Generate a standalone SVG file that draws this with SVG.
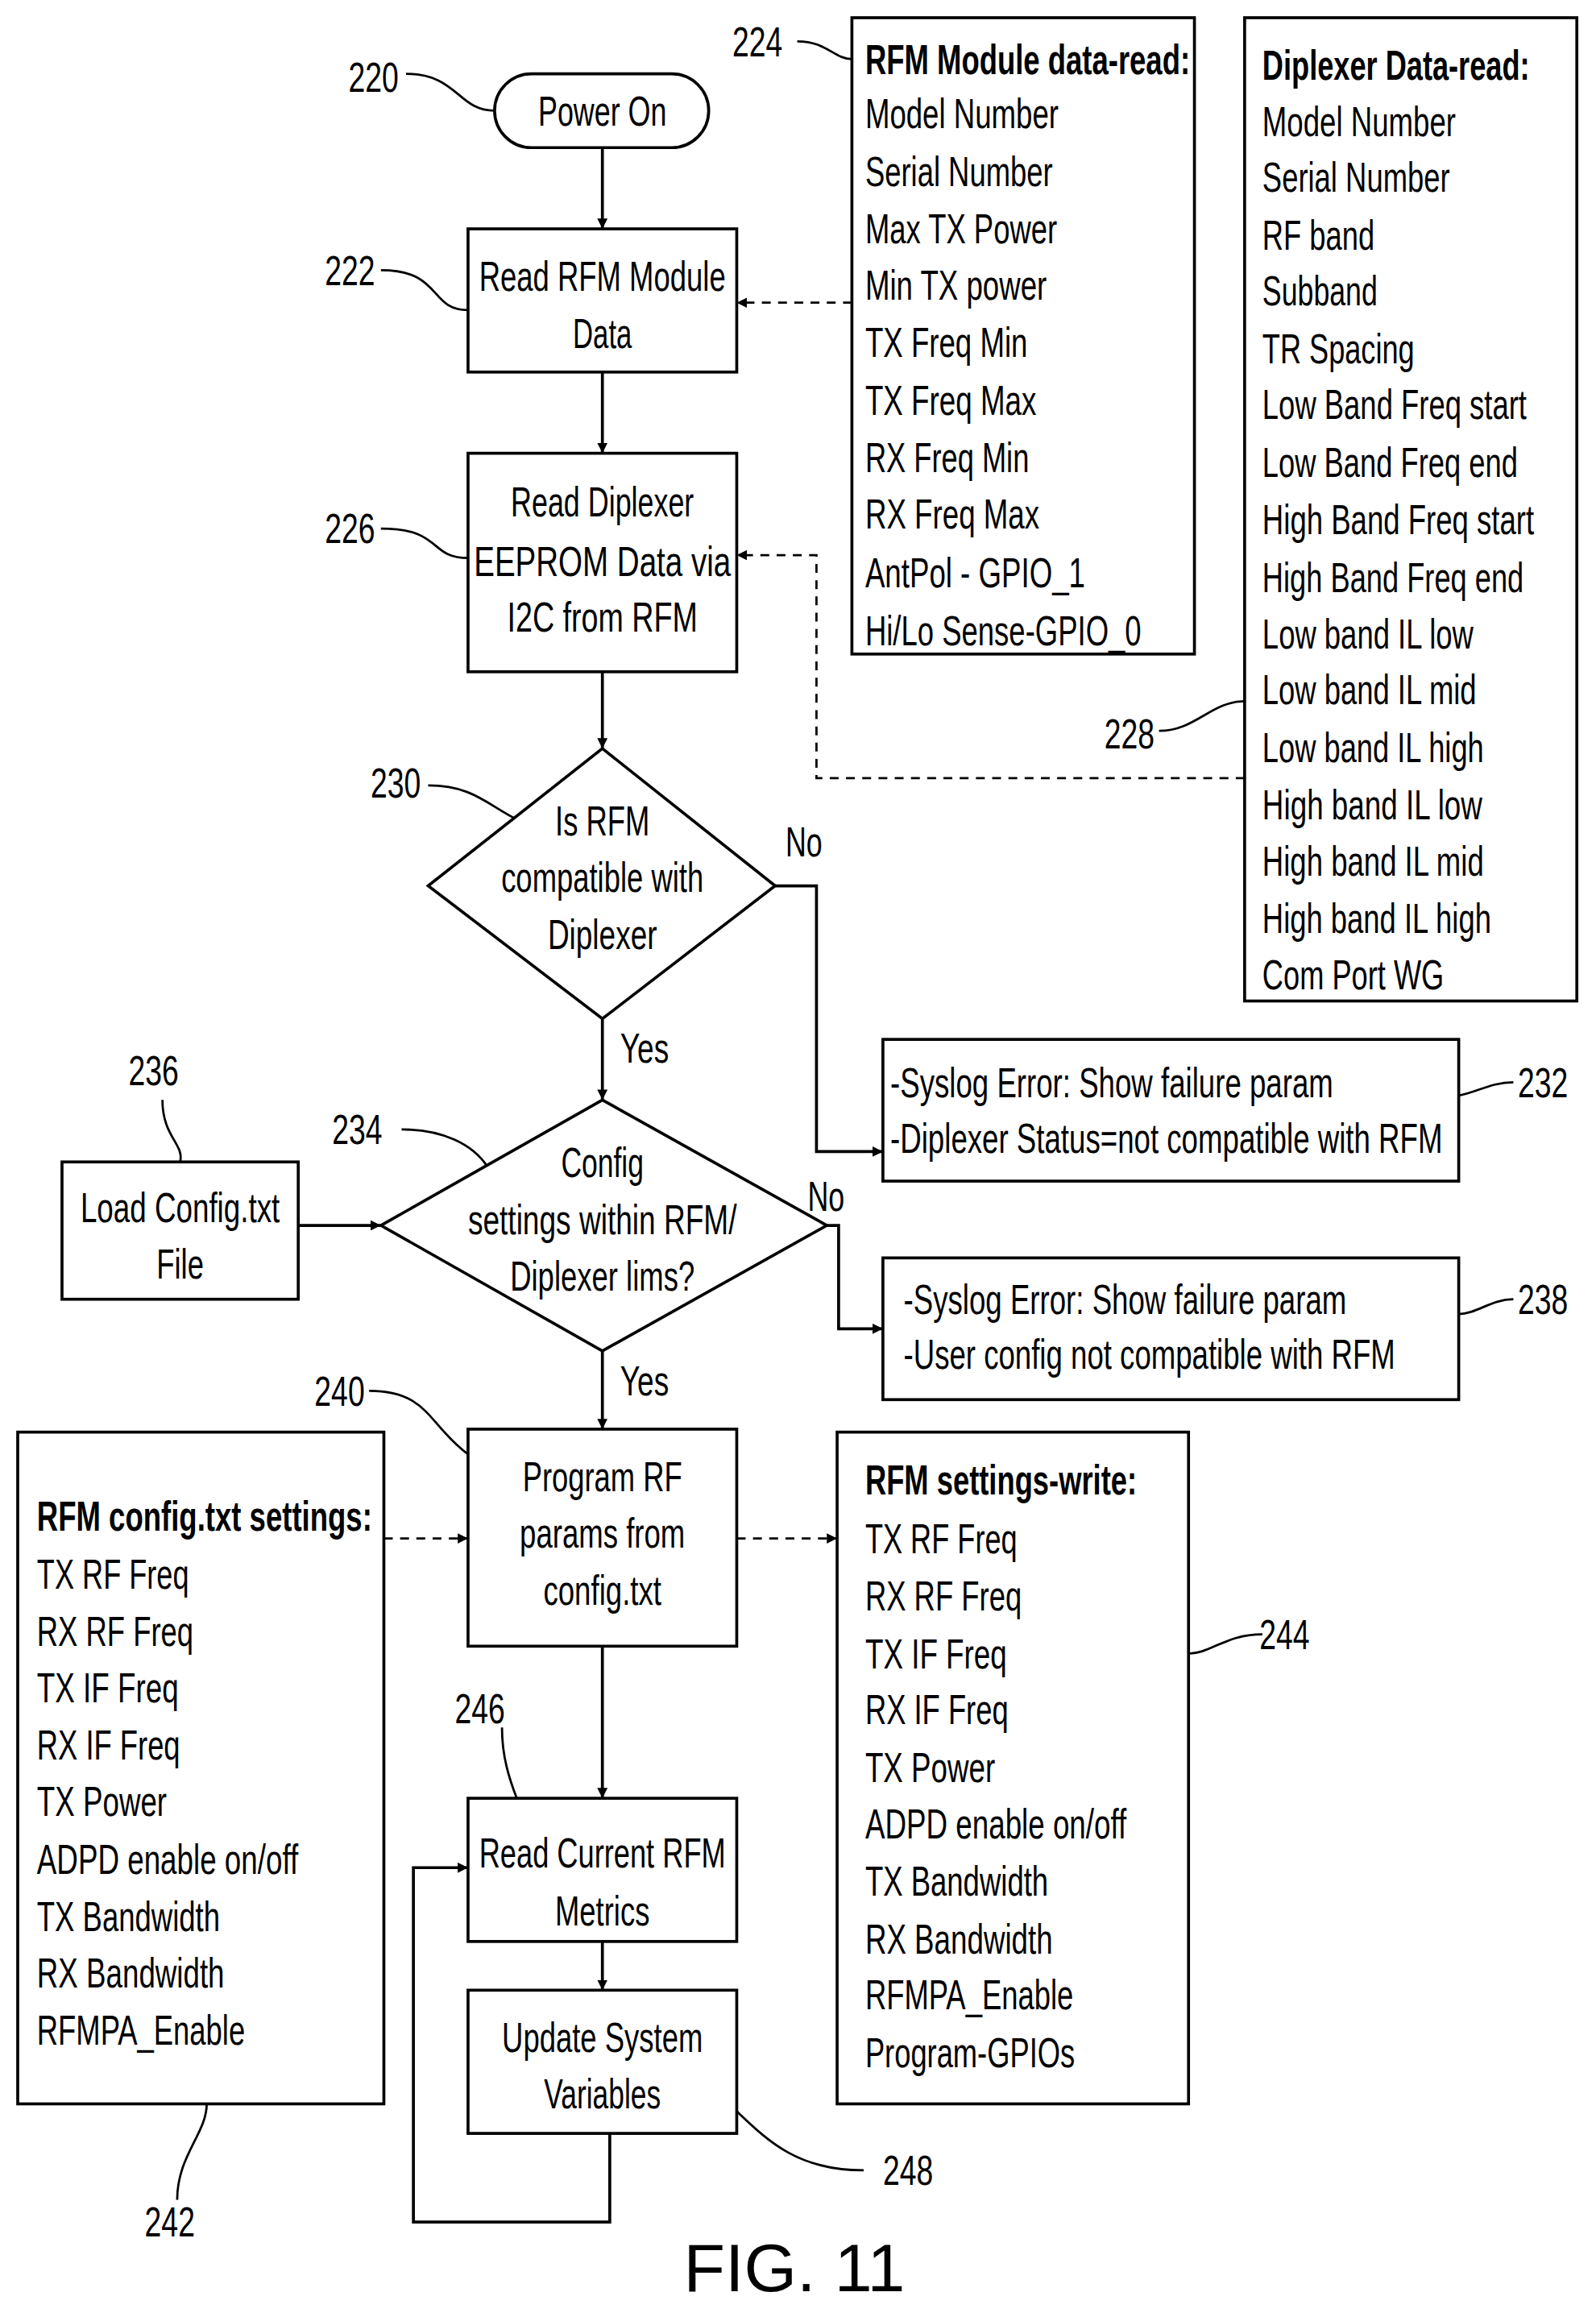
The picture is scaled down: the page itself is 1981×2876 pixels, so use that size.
<svg xmlns="http://www.w3.org/2000/svg" width="1981" height="2876" viewBox="0 0 1981 2876">
<defs>
<marker id="ah" viewBox="0 0 10 10" refX="10" refY="5" markerWidth="7" markerHeight="7" markerUnits="userSpaceOnUse" orient="auto"><path d="M0,0 L10,5 L0,10 z" fill="#000"/></marker>
<style>
text{font-family:"Liberation Sans",sans-serif;font-size:28px;fill:#000}
.c{text-anchor:middle}
.b{font-weight:bold}
rect,path.s{fill:#fff;stroke:#000;stroke-width:2}
.l{fill:none;stroke:#000;stroke-width:2;marker-end:url(#ah)}
.d{fill:none;stroke:#000;stroke-width:1.5;stroke-dasharray:6,5;marker-end:url(#ah)}
.t{fill:none;stroke:#000;stroke-width:1.5}
</style>
</defs>
<rect x="0" y="0" width="1981" height="2876" style="fill:#fff;stroke:none"/>
<g transform="scale(1.8326)">
<g id="connectors">
<path class="l" d="M408,100 V155"/>
<path class="l" d="M408,252 V307"/>
<path class="l" d="M408,455 V507"/>
<path class="l" d="M525,600 H553 V780 H598"/>
<path class="l" d="M408,690 V745"/>
<path class="l" d="M560,830 H568 V900 H598"/>
<path class="l" d="M202,830 H258"/>
<path class="l" d="M408,915 V968"/>
<path class="l" d="M408,1115 V1218"/>
<path class="l" d="M408,1315 V1348"/>
<path class="l" d="M413,1445 V1505 H280 V1265 H317"/>
<path class="d" d="M577,205 H499"/>
<path class="d" d="M843,527 H553 V376 H499"/>
<path class="d" d="M260,1042 H317"/>
<path class="d" d="M499,1042 H567"/>
<path class="t" d="M275,50 C310,50 310,75 335,75"/>
<path class="t" d="M258,183 C300,183 290,210 317,210"/>
<path class="t" d="M258,358 C300,358 290,378 317,378"/>
<path class="t" d="M290,532 C320,532 330,545 350,555"/>
<path class="t" d="M272,765 C300,765 320,775 330,790"/>
<path class="t" d="M110,745 C110,770 125,775 122,787"/>
<path class="t" d="M250,942 C290,942 290,965 317,985"/>
<path class="t" d="M340,1170 C340,1190 345,1205 350,1218"/>
<path class="t" d="M585,1470 C540,1470 520,1450 499,1430"/>
<path class="t" d="M540,28 C560,28 565,40 577,40"/>
<path class="t" d="M785,495 C810,495 820,475 843,475"/>
<path class="t" d="M1025,733 C1010,733 1000,740 988,742"/>
<path class="t" d="M1025,880 C1010,880 1000,890 988,890"/>
<path class="t" d="M855,1107 C830,1107 820,1120 805,1120"/>
<path class="t" d="M120,1490 C120,1460 140,1445 140,1425"/>
</g>
<g id="labels">
<text class="c" x="253" y="62" textLength="34" lengthAdjust="spacingAndGlyphs">220</text>
<text class="c" x="237" y="193" textLength="34" lengthAdjust="spacingAndGlyphs">222</text>
<text class="c" x="237" y="368" textLength="34" lengthAdjust="spacingAndGlyphs">226</text>
<text class="c" x="268" y="540" textLength="34" lengthAdjust="spacingAndGlyphs">230</text>
<text class="c" x="242" y="775" textLength="34" lengthAdjust="spacingAndGlyphs">234</text>
<text class="c" x="104" y="735" textLength="34" lengthAdjust="spacingAndGlyphs">236</text>
<text class="c" x="230" y="952" textLength="34" lengthAdjust="spacingAndGlyphs">240</text>
<text class="c" x="325" y="1167" textLength="34" lengthAdjust="spacingAndGlyphs">246</text>
<text class="c" x="615" y="1480" textLength="34" lengthAdjust="spacingAndGlyphs">248</text>
<text class="c" x="513" y="38" textLength="34" lengthAdjust="spacingAndGlyphs">224</text>
<text class="c" x="765" y="507" textLength="34" lengthAdjust="spacingAndGlyphs">228</text>
<text class="c" x="1045" y="743" textLength="34" lengthAdjust="spacingAndGlyphs">232</text>
<text class="c" x="1045" y="890" textLength="34" lengthAdjust="spacingAndGlyphs">238</text>
<text class="c" x="870" y="1117" textLength="34" lengthAdjust="spacingAndGlyphs">244</text>
<text class="c" x="115" y="1515" textLength="34" lengthAdjust="spacingAndGlyphs">242</text>
<text x="532" y="580" textLength="25" lengthAdjust="spacingAndGlyphs">No</text>
<text x="547" y="820" textLength="25" lengthAdjust="spacingAndGlyphs">No</text>
<text x="420" y="720" textLength="33" lengthAdjust="spacingAndGlyphs">Yes</text>
<text x="420" y="945" textLength="33" lengthAdjust="spacingAndGlyphs">Yes</text>
<text class="c" x="538" y="1552" style="font-size:46px">FIG. 11</text>
</g>
<g id="n220"><rect x="335" y="50" width="145" height="50" rx="25"/><text class="c" x="408" y="85" textLength="87" lengthAdjust="spacingAndGlyphs">Power On</text></g>
<g id="n222"><rect x="317" y="155" width="182" height="97"/><text class="c" x="408" y="197" textLength="167" lengthAdjust="spacingAndGlyphs">Read RFM Module</text><text class="c" x="408" y="236" textLength="40" lengthAdjust="spacingAndGlyphs">Data</text></g>
<g id="n226"><rect x="317" y="307" width="182" height="148"/><text class="c" x="408" y="350" textLength="124" lengthAdjust="spacingAndGlyphs">Read Diplexer</text><text class="c" x="408" y="390" textLength="174" lengthAdjust="spacingAndGlyphs">EEPROM Data via</text><text class="c" x="408" y="428" textLength="129" lengthAdjust="spacingAndGlyphs">I2C from RFM</text></g>
<g id="n230"><path class="s" d="M408,507 L525,600 L408,690 L290,600 Z"/><text class="c" x="408" y="566" textLength="64" lengthAdjust="spacingAndGlyphs">Is RFM</text><text class="c" x="408" y="604" textLength="137" lengthAdjust="spacingAndGlyphs">compatible with</text><text class="c" x="408" y="643" textLength="74" lengthAdjust="spacingAndGlyphs">Diplexer</text></g>
<g id="n232"><rect x="598" y="704" width="390" height="96"/><text x="603" y="743" textLength="300" lengthAdjust="spacingAndGlyphs">-Syslog Error: Show failure param</text><text x="603" y="781" textLength="374" lengthAdjust="spacingAndGlyphs">-Diplexer Status=not compatible with RFM</text></g>
<g id="n234"><path class="s" d="M408,745 L560,830 L408,915 L258,830 Z"/><text class="c" x="408" y="797" textLength="56" lengthAdjust="spacingAndGlyphs">Config</text><text class="c" x="408" y="836" textLength="182" lengthAdjust="spacingAndGlyphs">settings within RFM/</text><text class="c" x="408" y="874" textLength="125" lengthAdjust="spacingAndGlyphs">Diplexer lims?</text></g>
<g id="n238"><rect x="598" y="852" width="390" height="96"/><text x="612" y="890" textLength="300" lengthAdjust="spacingAndGlyphs">-Syslog Error: Show failure param</text><text x="612" y="927" textLength="333" lengthAdjust="spacingAndGlyphs">-User config not compatible with RFM</text></g>
<g id="n236"><rect x="42" y="787" width="160" height="93"/><text class="c" x="122" y="828" textLength="135" lengthAdjust="spacingAndGlyphs">Load Config.txt</text><text class="c" x="122" y="866" textLength="32" lengthAdjust="spacingAndGlyphs">File</text></g>
<g id="n240"><rect x="317" y="968" width="182" height="147"/><text class="c" x="408" y="1010" textLength="108" lengthAdjust="spacingAndGlyphs">Program RF</text><text class="c" x="408" y="1048" textLength="112" lengthAdjust="spacingAndGlyphs">params from</text><text class="c" x="408" y="1087" textLength="80" lengthAdjust="spacingAndGlyphs">config.txt</text></g>
<g id="n246"><rect x="317" y="1218" width="182" height="97"/><text class="c" x="408" y="1265" textLength="167" lengthAdjust="spacingAndGlyphs">Read Current RFM</text><text class="c" x="408" y="1304" textLength="64" lengthAdjust="spacingAndGlyphs">Metrics</text></g>
<g id="n248"><rect x="317" y="1348" width="182" height="97"/><text class="c" x="408" y="1390" textLength="136" lengthAdjust="spacingAndGlyphs">Update System</text><text class="c" x="408" y="1428" textLength="79" lengthAdjust="spacingAndGlyphs">Variables</text></g>
<g id="n224"><rect x="577" y="12" width="232" height="431"/>
<text class="b" x="586" y="50" textLength="220" lengthAdjust="spacingAndGlyphs">RFM Module data-read:</text>
<text x="586" y="87" textLength="131" lengthAdjust="spacingAndGlyphs">Model Number</text>
<text x="586" y="126" textLength="127" lengthAdjust="spacingAndGlyphs">Serial Number</text>
<text x="586" y="165" textLength="130" lengthAdjust="spacingAndGlyphs">Max TX Power</text>
<text x="586" y="203" textLength="123" lengthAdjust="spacingAndGlyphs">Min TX power</text>
<text x="586" y="242" textLength="110" lengthAdjust="spacingAndGlyphs">TX Freq Min</text>
<text x="586" y="281" textLength="116" lengthAdjust="spacingAndGlyphs">TX Freq Max</text>
<text x="586" y="320" textLength="111" lengthAdjust="spacingAndGlyphs">RX Freq Min</text>
<text x="586" y="358" textLength="118" lengthAdjust="spacingAndGlyphs">RX Freq Max</text>
<text x="586" y="398" textLength="149" lengthAdjust="spacingAndGlyphs">AntPol - GPIO_1</text>
<text x="586" y="437" textLength="187" lengthAdjust="spacingAndGlyphs">Hi/Lo Sense-GPIO_0</text></g>
<g id="n228"><rect x="843" y="12" width="225" height="666"/>
<text class="b" x="855" y="54" textLength="181" lengthAdjust="spacingAndGlyphs">Diplexer Data-read:</text>
<text x="855" y="92" textLength="131" lengthAdjust="spacingAndGlyphs">Model Number</text>
<text x="855" y="130" textLength="127" lengthAdjust="spacingAndGlyphs">Serial Number</text>
<text x="855" y="169" textLength="76" lengthAdjust="spacingAndGlyphs">RF band</text>
<text x="855" y="207" textLength="78" lengthAdjust="spacingAndGlyphs">Subband</text>
<text x="855" y="246" textLength="103" lengthAdjust="spacingAndGlyphs">TR Spacing</text>
<text x="855" y="284" textLength="179" lengthAdjust="spacingAndGlyphs">Low Band Freq start</text>
<text x="855" y="323" textLength="173" lengthAdjust="spacingAndGlyphs">Low Band Freq end</text>
<text x="855" y="362" textLength="184" lengthAdjust="spacingAndGlyphs">High Band Freq start</text>
<text x="855" y="401" textLength="177" lengthAdjust="spacingAndGlyphs">High Band Freq end</text>
<text x="855" y="439" textLength="143" lengthAdjust="spacingAndGlyphs">Low band IL low</text>
<text x="855" y="477" textLength="145" lengthAdjust="spacingAndGlyphs">Low band IL mid</text>
<text x="855" y="516" textLength="150" lengthAdjust="spacingAndGlyphs">Low band IL high</text>
<text x="855" y="555" textLength="149" lengthAdjust="spacingAndGlyphs">High band IL low</text>
<text x="855" y="593" textLength="150" lengthAdjust="spacingAndGlyphs">High band IL mid</text>
<text x="855" y="632" textLength="155" lengthAdjust="spacingAndGlyphs">High band IL high</text>
<text x="855" y="670" textLength="123" lengthAdjust="spacingAndGlyphs">Com Port WG</text></g>
<g id="n242"><rect x="12" y="970" width="248" height="455"/>
<text class="b" x="25" y="1037" textLength="227" lengthAdjust="spacingAndGlyphs">RFM config.txt settings:</text>
<text x="25" y="1076" textLength="103" lengthAdjust="spacingAndGlyphs">TX RF Freq</text>
<text x="25" y="1115" textLength="106" lengthAdjust="spacingAndGlyphs">RX RF Freq</text>
<text x="25" y="1153" textLength="96" lengthAdjust="spacingAndGlyphs">TX IF Freq</text>
<text x="25" y="1192" textLength="97" lengthAdjust="spacingAndGlyphs">RX IF Freq</text>
<text x="25" y="1230" textLength="88" lengthAdjust="spacingAndGlyphs">TX Power</text>
<text x="25" y="1269" textLength="177" lengthAdjust="spacingAndGlyphs">ADPD enable on/off</text>
<text x="25" y="1308" textLength="124" lengthAdjust="spacingAndGlyphs">TX Bandwidth</text>
<text x="25" y="1346" textLength="127" lengthAdjust="spacingAndGlyphs">RX Bandwidth</text>
<text x="25" y="1385" textLength="141" lengthAdjust="spacingAndGlyphs">RFMPA_Enable</text></g>
<g id="n244"><rect x="567" y="970" width="238" height="455"/>
<text class="b" x="586" y="1012" textLength="184" lengthAdjust="spacingAndGlyphs">RFM settings-write:</text>
<text x="586" y="1052" textLength="103" lengthAdjust="spacingAndGlyphs">TX RF Freq</text>
<text x="586" y="1091" textLength="106" lengthAdjust="spacingAndGlyphs">RX RF Freq</text>
<text x="586" y="1130" textLength="96" lengthAdjust="spacingAndGlyphs">TX IF Freq</text>
<text x="586" y="1168" textLength="97" lengthAdjust="spacingAndGlyphs">RX IF Freq</text>
<text x="586" y="1207" textLength="88" lengthAdjust="spacingAndGlyphs">TX Power</text>
<text x="586" y="1245" textLength="177" lengthAdjust="spacingAndGlyphs">ADPD enable on/off</text>
<text x="586" y="1284" textLength="124" lengthAdjust="spacingAndGlyphs">TX Bandwidth</text>
<text x="586" y="1323" textLength="127" lengthAdjust="spacingAndGlyphs">RX Bandwidth</text>
<text x="586" y="1361" textLength="141" lengthAdjust="spacingAndGlyphs">RFMPA_Enable</text>
<text x="586" y="1400" textLength="142" lengthAdjust="spacingAndGlyphs">Program-GPIOs</text></g>
</g>
</svg>
